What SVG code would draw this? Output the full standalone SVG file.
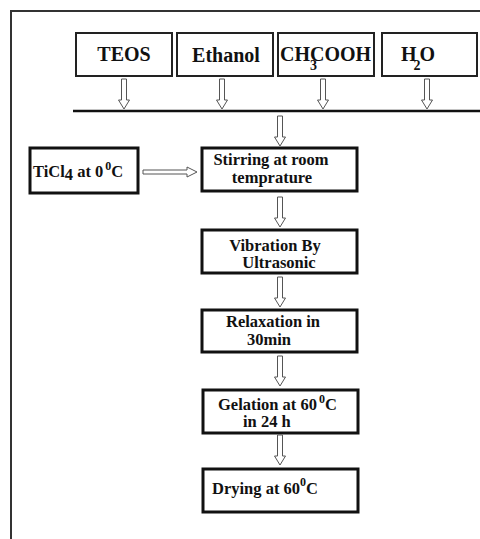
<svg xmlns="http://www.w3.org/2000/svg" xmlns:xlink="http://www.w3.org/1999/xlink" width="480" height="539" viewBox="0 0 480 539">
<style>
  .frame { fill: none; stroke: #333; stroke-width: 2; }
  .tbox { fill: #fff; stroke: #222; stroke-width: 2; }
  .mbox { fill: #fff; stroke: #111; stroke-width: 3; }
  .t20 { font-family: "Liberation Serif", "Times New Roman", serif; font-weight: bold; font-size: 20px; fill: #111; }
  .t16 { font-family: "Liberation Serif", "Times New Roman", serif; font-weight: bold; font-size: 16.5px; fill: #111; }
  .arrow { fill: #fff; stroke: #555; stroke-width: 1; }
  .bar { stroke: #111; stroke-width: 2.5; }
</style>
<defs>
  <path id="varrow" class="arrow" d="M -2.5 0 V 21 H -5.5 L 0 30 L 5.5 21 H 2.5 V 0 Z"/>
</defs>
<rect width="480" height="539" fill="#fff"/>
<path class="frame" d="M 11 539 V 11 H 480"/>

<g id="teos">
  <rect class="tbox" x="76" y="33" width="96" height="43"/>
  <text class="t20" x="124" y="61" text-anchor="middle">TEOS</text>
</g>
<g id="ethanol">
  <rect class="tbox" x="177" y="33" width="96" height="43"/>
  <text class="t20" x="226" y="62" text-anchor="middle">Ethanol</text>
</g>
<g id="acetic">
  <rect class="tbox" x="278" y="33" width="96" height="43"/>
  <text class="t20" x="280" y="61">CH<tspan font-size="14" dy="9">3</tspan><tspan dx="-7" dy="-9">COOH</tspan></text>
</g>
<g id="water">
  <rect class="tbox" x="382" y="33" width="95" height="43"/>
  <text class="t20" x="401" y="61">H<tspan font-size="14" dy="9" dx="-3">2</tspan><tspan dy="-9" dx="-1">O</tspan></text>
</g>

<g id="tee">
  <line class="bar" x1="73" y1="111" x2="480" y2="111"/>
</g>

<g id="ticl4">
  <rect class="mbox" x="30" y="148" width="108" height="45"/>
  <text class="t16" x="33" y="177" font-size="17">TiCl<tspan dy="3">4</tspan><tspan dy="-3"> at 0</tspan><tspan font-size="12" dy="-7" dx="2">0</tspan><tspan dy="7">C</tspan></text>
</g>
<g id="stirring">
  <rect class="mbox" x="202" y="148" width="155" height="43"/>
  <text class="t16" x="271" y="165" text-anchor="middle">Stirring at room</text>
  <text class="t16" x="272" y="183" text-anchor="middle">temprature</text>
</g>
<g id="vibration">
  <rect class="mbox" x="202" y="230" width="155" height="43"/>
  <text class="t16" x="275" y="251" text-anchor="middle">Vibration By</text>
  <text class="t16" x="279" y="268" text-anchor="middle">Ultrasonic</text>
</g>
<g id="relaxation">
  <rect class="mbox" x="202" y="310" width="155" height="42"/>
  <text class="t16" x="273" y="327" text-anchor="middle">Relaxation in</text>
  <text class="t16" x="247" y="345">30min</text>
</g>
<g id="gelation">
  <rect class="mbox" x="203" y="390" width="155" height="43"/>
  <text class="t16" x="218" y="410">Gelation at 60<tspan font-size="12" dy="-7" dx="2">0</tspan><tspan dy="7">C</tspan></text>
  <text class="t16" x="243" y="427">in 24 h</text>
</g>
<g id="drying">
  <rect class="mbox" x="203" y="469" width="155" height="43"/>
  <text class="t16" x="212" y="494">Drying at 60<tspan font-size="12" dy="-8">0</tspan><tspan dy="8">C</tspan></text>
</g>

<g id="connectors">
  <use xlink:href="#varrow" x="124" y="79"/>
  <use xlink:href="#varrow" x="222" y="79"/>
  <use xlink:href="#varrow" x="323" y="79"/>
  <use xlink:href="#varrow" x="427" y="79"/>
  <use xlink:href="#varrow" x="280" y="116"/>
  <use xlink:href="#varrow" x="280" y="197"/>
  <use xlink:href="#varrow" x="280" y="277"/>
  <use xlink:href="#varrow" x="280" y="356"/>
  <use xlink:href="#varrow" x="280" y="435"/>
  <path class="arrow" d="M 143 170 H 187 V 167 L 197 172 L 187 177 V 174 H 143 Z"/>
</g>
</svg>
